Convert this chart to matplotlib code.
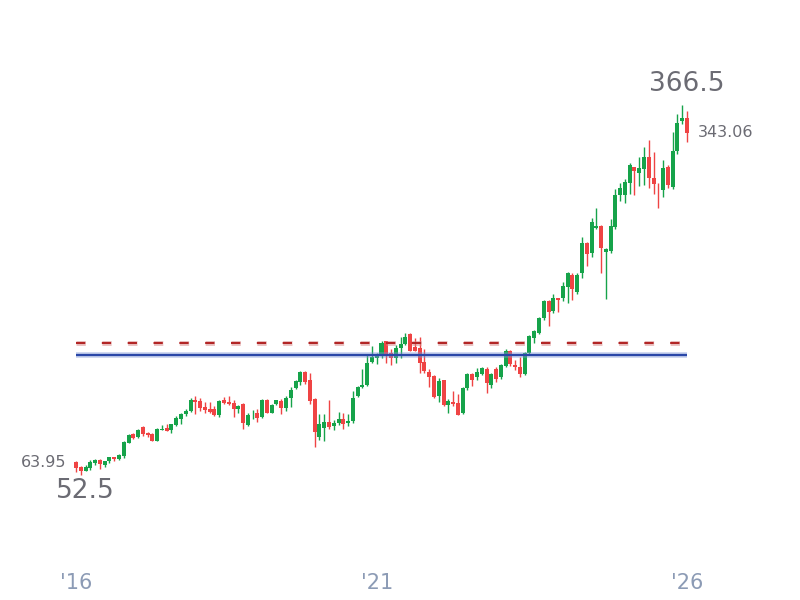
import matplotlib
matplotlib.use("Agg")
import matplotlib.pyplot as plt
import numpy as np

plt.rcParams['font.family'] = ['DejaVu Sans']
plt.rcParams['lines.scale_dashes'] = False

# Candle data (OHLC), one bar per period from '16 to '26
opens = [63.95, 59.3, 56.2, 58.7, 63.0, 65.2, 61.0, 64.0, 67.8, 66.3,
         68.6, 80.0, 87.0, 85.0, 93.2, 88.4, 87.3, 81.6, 91.0, 92.4,
         90.7, 94.9, 100.0, 104.3, 107.0, 116.1, 115.0, 110.2, 108.3, 108.3,
         103.7, 116.1, 114.4, 113.6, 108.8, 112.7, 94.9, 103.1, 105.1, 102.0,
         116.1, 105.4, 113.0, 115.0, 109.0, 118.1, 126.1, 131.7, 139.9, 133.1,
         117.0, 85.0, 92.6, 97.2, 94.3, 96.6, 100.0, 96.9, 98.3, 119.5,
         127.2, 128.9, 148.7, 151.5, 153.7, 166.2, 155.8, 151.5, 160.0, 163.7,
         172.2, 161.4, 160.0, 148.4, 140.2, 136.9, 119.5, 133.1, 111.9, 114.7,
         113.3, 105.4, 126.1, 138.2, 135.4, 138.2, 142.5, 129.2, 142.5, 135.9,
         145.0, 157.7, 145.8, 144.4, 138.2, 155.8, 168.5, 173.3, 185.5, 200.2,
         191.9, 202.4, 202.4, 212.3, 222.2, 208.0, 223.7, 249.1, 240.6, 261.8,
         263.8, 242.0, 242.6, 262.7, 290.1, 290.1, 300.0, 313.6, 309.0, 312.0,
         322.0, 304.3, 294.5, 294.0, 314.1, 297.2, 327.4, 353.1, 355.2]
highs = [64.4, 59.9, 60.7, 65.0, 66.0, 66.0, 64.6, 68.0, 68.0, 70.0,
         81.0, 87.3, 87.9, 91.5, 93.8, 89.0, 88.0, 92.6, 95.0, 95.5,
         96.0, 102.8, 105.4, 108.3, 117.6, 119.3, 118.1, 114.7, 114.2, 111.3,
         116.0, 118.7, 119.5, 116.1, 112.0, 113.2, 104.8, 107.7, 108.3, 117.0,
         117.0, 112.5, 116.5, 116.7, 119.8, 126.9, 133.1, 140.5, 140.5, 138.8,
         117.6, 104.0, 104.3, 115.9, 98.9, 106.2, 104.8, 104.0, 123.8, 128.0,
         142.2, 155.2, 162.0, 156.3, 166.2, 166.5, 159.2, 162.8, 169.4, 172.7,
         172.7, 169.0, 169.9, 159.2, 142.2, 137.5, 134.5, 133.5, 117.0, 124.0,
         121.2, 127.0, 139.0, 139.0, 143.0, 144.5, 144.5, 139.0, 144.0, 146.4,
         159.4, 158.5, 150.0, 152.9, 156.5, 171.5, 175.5, 186.4, 201.0, 201.0,
         205.8, 203.0, 216.5, 225.0, 223.5, 224.2, 254.2, 250.0, 270.3, 279.3,
         264.5, 245.5, 269.5, 295.0, 300.0, 303.5, 317.5, 314.0, 322.0, 330.6,
         336.8, 326.4, 300.0, 319.8, 315.9, 343.8, 358.8, 366.5, 361.6]
lows = [55.0, 52.5, 55.8, 57.0, 61.0, 57.3, 59.0, 63.0, 64.6, 65.5,
        67.0, 79.5, 82.8, 83.7, 85.3, 84.5, 81.0, 81.0, 90.7, 89.5,
        88.0, 94.0, 95.8, 102.6, 106.0, 104.3, 106.8, 105.4, 104.8, 102.6,
        102.0, 112.5, 112.0, 102.0, 105.4, 91.3, 94.0, 99.8, 97.7, 101.0,
        104.8, 105.0, 111.7, 104.0, 107.0, 110.5, 125.5, 128.9, 129.7, 112.5,
        76.5, 82.2, 81.6, 91.3, 90.4, 94.9, 91.5, 94.3, 97.0, 118.5,
        126.5, 128.0, 147.3, 146.4, 151.5, 147.3, 145.8, 147.3, 151.5, 163.0,
        157.5, 157.5, 139.3, 138.8, 126.9, 118.0, 114.7, 111.0, 105.4, 111.0,
        103.0, 104.0, 125.0, 128.0, 133.0, 137.0, 121.8, 126.0, 131.7, 134.0,
        144.0, 145.0, 141.6, 135.4, 137.5, 155.0, 164.8, 172.5, 184.0, 179.0,
        190.0, 191.1, 200.0, 198.6, 201.0, 206.0, 219.4, 229.9, 237.7, 261.0,
        223.7, 201.6, 241.0, 261.0, 285.3, 283.6, 291.0, 290.0, 298.0, 298.6,
        295.8, 290.7, 278.8, 288.7, 296.0, 295.0, 324.6, 350.1, 334.8]
closes = [58.7, 56.2, 59.0, 63.3, 65.2, 61.8, 64.4, 67.8, 66.1, 69.5,
          80.5, 86.4, 84.2, 90.7, 87.5, 86.4, 81.6, 91.5, 91.8, 90.0,
          95.5, 100.9, 104.3, 107.0, 116.1, 114.7, 109.6, 107.7, 106.2, 103.7,
          115.3, 113.6, 112.5, 108.8, 111.3, 96.9, 103.4, 103.7, 101.1, 116.1,
          105.4, 111.9, 115.9, 109.6, 118.1, 124.6, 132.3, 139.9, 131.7, 115.5,
          89.2, 95.8, 97.2, 93.5, 96.6, 100.0, 95.8, 98.3, 118.1, 127.2,
          128.9, 147.8, 152.4, 154.3, 164.8, 155.2, 151.5, 160.0, 163.7, 169.9,
          158.0, 158.0, 147.8, 140.8, 135.9, 118.9, 132.5, 111.9, 115.5, 112.7,
          103.7, 126.1, 138.2, 133.1, 139.6, 143.6, 130.3, 138.2, 134.0, 145.8,
          157.7, 146.7, 144.4, 138.2, 155.8, 170.5, 174.7, 185.5, 200.2, 191.1,
          202.4, 201.0, 212.9, 224.2, 210.3, 222.2, 249.1, 239.8, 266.9, 264.0,
          244.9, 244.0, 263.8, 290.1, 295.8, 301.4, 315.6, 310.7, 312.7, 322.0,
          304.8, 299.4, 294.0, 313.3, 298.6, 327.4, 350.9, 355.7, 343.06]

tick_positions = [0, 63, 128]
tick_labels = ["'16", "'21", "'26"]

avg_level = 154.3      # solid blue horizontal line
ref_level = 164.5      # dashed red horizontal line

UP = '#16a34a'
DOWN = '#ef4444'

o = np.array(opens); h = np.array(highs); l = np.array(lows); c = np.array(closes)
n = len(o)
x = np.arange(n)
colors = np.where(c >= o, UP, DOWN)

fig = plt.figure(figsize=(8, 6), dpi=100)
ax = fig.add_axes([0, 1 - 560 / 600, 1, 560 / 600])

# pixel mapping: index -> px = 76 + i*4.7734 ; price 52.5 at y=475px, 0.8486 per px
step = (687 - 76) / 128
ax.set_xlim(-76 / step, (800 - 76) / step)
ax.set_ylim(52.5 - (560 - 475) * 0.8486, 52.5 + 475 * 0.8486)

ax.vlines(x, l, h, colors=colors, linewidth=1.0, zorder=2)
body_bottom = np.minimum(o, c)
body_h = np.maximum(np.abs(c - o), 0.6)
ax.bar(x, body_h, bottom=body_bottom, width=0.84, color=colors, linewidth=0, zorder=3)

# horizontal reference lines
ax.plot([0, n - 1], [avg_level, avg_level], color='#7f95d6', lw=4.0, alpha=0.45,
        solid_capstyle='butt', zorder=4)
ax.plot([0, n - 1], [avg_level, avg_level], color='#2a47a8', lw=1.6,
        solid_capstyle='butt', zorder=5)
ax.plot([0, n - 1], [ref_level, ref_level], color='#d98a8a', lw=3.6, alpha=0.5,
        dashes=(6.7, 11.9), dash_capstyle='butt', zorder=4)
ax.plot([0, n - 1], [ref_level, ref_level], color='#b22626', lw=1.5,
        dashes=(6.7, 11.9), dash_capstyle='butt', zorder=5)

# value annotations
imax = int(np.argmax(h)); imin = int(np.argmin(l))
ax.annotate(f"{h[imax]:g}", xy=(imax, h[imax]), xytext=(3, 15), textcoords='offset points',
            ha='center', va='center', fontsize=19, color='#6b6b73')
ax.annotate(f"{l[imin]:g}", xy=(imin, l[imin]), xytext=(3, -11.5), textcoords='offset points',
            ha='center', va='center', fontsize=19, color='#6b6b73')
ax.annotate(f"{o[0]:.2f}", xy=(0, o[0]), xytext=(-7.2, -1), textcoords='offset points',
            ha='right', va='center', fontsize=11.5, color='#6b6b73')
ax.annotate(f"{c[-1]:.2f}", xy=(n - 1, c[-1]), xytext=(7.9, 0), textcoords='offset points',
            ha='left', va='center', fontsize=11.5, color='#6b6b73')

ax.set_xticks(tick_positions)
ax.set_xticklabels(tick_labels)
ax.tick_params(axis='x', length=0, pad=9.2, labelsize=15, labelcolor='#8c9bb5')
ax.set_yticks([])
for s in ax.spines.values():
    s.set_visible(False)

fig.savefig("out.png", dpi=100)
